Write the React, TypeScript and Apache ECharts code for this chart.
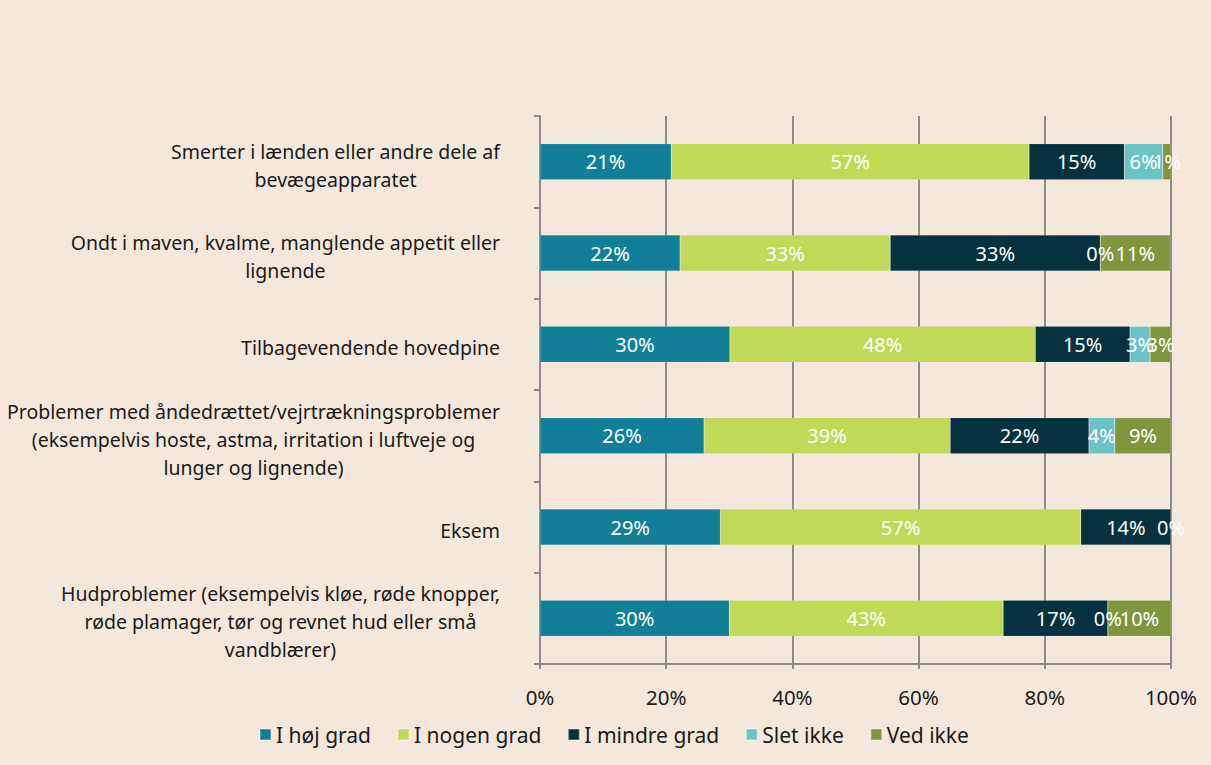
import React, { useEffect, useRef } from "react";
import * as echarts from "echarts";

const categories = [
  "Smerter i lænden eller andre dele af\nbevægeapparatet",
  "Ondt i maven, kvalme, manglende appetit eller\nlignende",
  "Tilbagevendende hovedpine",
  "Problemer med åndedrættet/vejrtrækningsproblemer\n(eksempelvis hoste, astma, irritation i luftveje og\nlunger og lignende)",
  "Eksem",
  "Hudproblemer (eksempelvis kløe, røde knopper,\nrøde plamager, tør og revnet hud eller små\nvandblærer)",
];

const seriesNames = ["I høj grad", "I nogen grad", "I mindre grad", "Slet ikke", "Ved ikke"];

const hojGrad = [20.8, 22.2, 30.1, 26.0, 28.6, 30.0];
const nogenGrad = [56.7, 33.3, 48.4, 39.0, 57.1, 43.4];
const mindreGrad = [15.1, 33.3, 15.0, 22.0, 14.3, 16.6];
const sletIkke = [6.1, 0, 3.2, 4.1, 0, 0];
const vedIkke: (number | null)[] = [1.3, 11.1, 3.3, 8.9, null, 10.0];

const colors = ["#127F99", "#C0D957", "#06323F", "#6BC3C8", "#80963D"];
const xTicks = [0, 20, 40, 60, 80, 100];

const FONT = "'Noto Sans', sans-serif";
const CAT_FS = 19.5;

export default function App() {
  const ref = useRef<HTMLDivElement>(null);
  useEffect(() => {
    document.body.style.margin = "0";
    const chart = echarts.init(ref.current!, null, { renderer: "svg" });
    const data = [hojGrad, nogenGrad, mindreGrad, sletIkke, vedIkke];
    chart.setOption({
      animation: false,
      backgroundColor: "#F4E8DC",
      textStyle: { fontFamily: FONT },
      legend: {
        bottom: 15,
        left: 254,
        itemWidth: 11,
        itemHeight: 11,
        itemGap: 26,
        icon: "rect",
        textStyle: { fontFamily: FONT, fontSize: 21, color: "#1a1a1a" },
        data: seriesNames,
      },
      grid: { left: 540, right: 40, top: 116, bottom: 101, containLabel: false },
      xAxis: {
        type: "value",
        min: 0,
        max: 100,
        interval: 20,
        axisLine: { show: true, lineStyle: { color: "#8C8C8C", width: 2 } },
        axisTick: { show: true, length: 5, inside: false, lineStyle: { color: "#8C8C8C", width: 2 } },
        splitLine: { show: true, lineStyle: { color: "#8C8C8C", width: 2 } },
        axisLabel: {
          formatter: (v: number) => (xTicks.includes(v) ? v + "%" : ""),
          fontSize: 20.5,
          color: "#1a1a1a",
          margin: 22,
          fontFamily: FONT,
        },
      },
      yAxis: {
        type: "category",
        inverse: true,
        data: categories,
        axisLine: { show: true, lineStyle: { color: "#8C8C8C", width: 2 } },
        axisTick: { show: true, length: 6, lineStyle: { color: "#8C8C8C", width: 2 } },
        axisLabel: {
          fontSize: CAT_FS,
          color: "#1a1a1a",
          margin: 40,
          fontFamily: FONT,
          lineHeight: 28,
          align: "right",
          padding: [7, 0, 0, 0],
          formatter: (v: string) =>
            v
              .split("\n")
              .map((l) => "{c|" + l + "}")
              .join("\n"),
          rich: {
            c: { align: "center", fontSize: CAT_FS, lineHeight: 28, color: "#1a1a1a", fontFamily: FONT },
          },
        },
      },
      series: seriesNames.map((name, i) => ({
        name,
        type: "bar",
        stack: "total",
        barWidth: 36,
        itemStyle: { color: colors[i], borderColor: "rgba(255,255,255,0.25)", borderWidth: 0.5 },
        label: {
          show: true,
          position: "inside",
          color: "#ffffff",
          fontSize: 20,
          fontFamily: FONT,
          formatter: (p: any) => Math.round(p.value) + "%",
        },
        data: data[i],
      })),
    });
    return () => chart.dispose();
  }, []);
  return <div ref={ref} style={{ width: 1211, height: 765 }} />;
}
